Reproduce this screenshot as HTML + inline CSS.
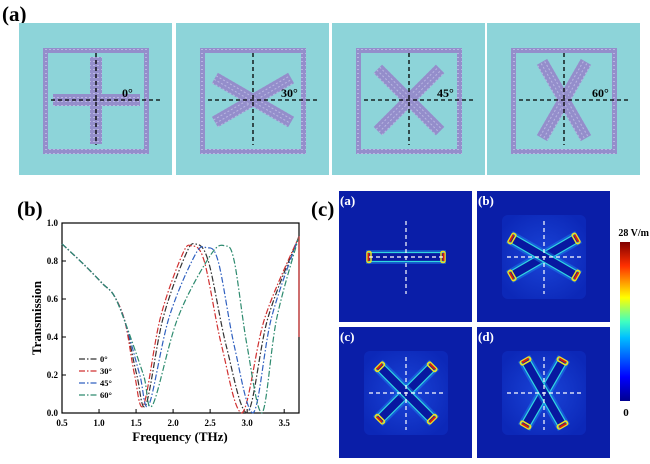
<!DOCTYPE html>
<html><head><meta charset="utf-8"><style>
body{margin:0;background:#fff;width:650px;height:464px;overflow:hidden}
svg{display:block;font-family:"Liberation Serif",serif}
</style></head><body>
<svg id="s" width="650" height="464" viewBox="0 0 650 464" xmlns="http://www.w3.org/2000/svg">
<defs>
<pattern id="mesh" width="4" height="4" patternUnits="userSpaceOnUse">
<rect width="4" height="4" fill="#948ecb"/><rect x="1" y="1" width="2" height="1" fill="#b9b6e2"/>
</pattern>
<linearGradient id="cb" x1="0" y1="1" x2="0" y2="0">
<stop offset="0" stop-color="#00008f"/><stop offset="0.15" stop-color="#0000ff"/><stop offset="0.4" stop-color="#00c0ff"/><stop offset="0.5" stop-color="#40ffc0"/><stop offset="0.65" stop-color="#ffff00"/><stop offset="0.85" stop-color="#ff3000"/><stop offset="1" stop-color="#800000"/>
</linearGradient>
<radialGradient id="inner" cx="0.5" cy="0.5" r="0.6"><stop offset="0" stop-color="#1a44d8"/><stop offset="1" stop-color="#0c28b8"/></radialGradient>
</defs>
<text x="2" y="21" font-size="21" font-weight="bold">(a)</text>
<g id="gtop"></g>
<text x="17" y="216" font-size="21" font-weight="bold">(b)</text>
<g id="gplot"></g>
<text x="311" y="216" font-size="21" font-weight="bold">(c)</text>
<g id="gmaps"></g>
<rect x="620" y="242" width="10" height="159" fill="url(#cb)"/>
<text x="649" y="236" font-size="10" font-weight="bold" text-anchor="end">28 V/m</text>
<text x="626" y="416" font-size="11" font-weight="bold" text-anchor="middle">0</text>
</svg>
<script>
(function(){
var NS="http://www.w3.org/2000/svg";
function el(p,t,a,txt){var e=document.createElementNS(NS,t);for(var k in a)e.setAttribute(k,a[k]);if(txt!==undefined)e.textContent=txt;p.appendChild(e);return e;}
var T=document.getElementById('gtop');
var boxes=[[19,0,'0°'],[176,30,'30°'],[332,45,'45°'],[487,60,'60°']];
boxes.forEach(function(b){
 var L=b[0],ang=b[1],lab=b[2];
 el(T,'rect',{x:L,y:23,width:153,height:152,fill:'#8dd4d9'});
 var cx=L+77,cy=100;
 el(T,'rect',{x:L+26.5,y:50.5,width:101,height:101,fill:'none',stroke:'url(#mesh)','stroke-width':5});
 if(ang===0){
  el(T,'rect',{x:cx-6,y:57,width:12,height:87,fill:'url(#mesh)'});
  el(T,'rect',{x:cx-43,y:94,width:87,height:12,fill:'url(#mesh)'});
 }else{
  [ang,-ang].forEach(function(a){el(T,'rect',{x:cx-44,y:cy-6,width:88,height:12,fill:'url(#mesh)',transform:'rotate('+(-a)+' '+cx+' '+cy+')'});});
 }
 el(T,'line',{x1:cx,y1:53,x2:cx,y2:145,stroke:'#000','stroke-width':1.3,'stroke-dasharray':'4,3'});
 el(T,'line',{x1:L+32,y1:cy,x2:L+141,y2:cy,stroke:'#000','stroke-width':1.3,'stroke-dasharray':'4,3'});
 el(T,'text',{x:cx+(ang?28:26),y:cy-3,'font-size':12,'font-weight':'bold'},lab);
});
var P=document.getElementById('gplot');
var X0=62,X1=299,Y0=413,Y1=223;
function fx(f){return X0+(f-0.5)/3.2*(X1-X0);}
function ty(t){return Y0-t*(Y0-Y1);}
el(P,'rect',{x:X0,y:Y1,width:X1-X0,height:Y0-Y1,fill:'none',stroke:'#000','stroke-width':1.2});
[0.5,1,1.5,2,2.5,3,3.5].forEach(function(f){el(P,'line',{x1:fx(f),y1:Y0,x2:fx(f),y2:Y0-4,stroke:'#000'});el(P,'text',{x:fx(f),y:Y0+13,'font-size':9,'font-weight':'bold','text-anchor':'middle'},f.toFixed(1));});
[0,0.2,0.4,0.6,0.8,1].forEach(function(t){el(P,'line',{x1:X0,y1:ty(t),x2:X0+4,y2:ty(t),stroke:'#000'});el(P,'text',{x:X0-4,y:ty(t)+3,'font-size':9,'font-weight':'bold','text-anchor':'end'},t.toFixed(1));});
el(P,'text',{x:180,y:441,'font-size':13,'font-weight':'bold','text-anchor':'middle'},'Frequency (THz)');
el(P,'text',{x:41,y:318,'font-size':13,'font-weight':'bold','text-anchor':'middle',transform:'rotate(-90 41 318)'},'Transmission');
function mk(d1,p,pk,d2){
 return [[0.5,.89],[0.8,.78],[1.05,.68],[1.2,.62],[1.35,.48],[d1-0.12,.2],[d1,.04],[d1+(p-d1)*0.35,.5],[p-(p-d1)*0.2,.83],[p,pk],[p+(d2-p)*0.25,.8],[p+(d2-p)*0.6,.35],[d2,0.0],[d2+(3.7-d2)*0.4,.5],[3.7,.93]];
}
var series=[
 ['#333',mk(1.63,2.3,.89,3.0)],
 ['#d03030',mk(1.6,2.25,.88,2.93)],
 ['#3060c0',mk(1.67,2.45,.87,3.08)],
 ['#2e8b6f',mk(1.72,2.7,.88,3.2)]
];
series.forEach(function(s){
 var c=s[0],pts=s[1].map(function(q){return [fx(q[0]),ty(q[1])];}),d='M'+pts[0][0]+' '+pts[0][1];
 for(var i=0;i<pts.length-1;i++){
  var p0=pts[Math.max(0,i-1)],p1=pts[i],p2=pts[i+1],p3=pts[Math.min(pts.length-1,i+2)];
  var c1x=p1[0]+(p2[0]-p0[0])/6,c1y=p1[1]+(p2[1]-p0[1])/6,c2x=p2[0]-(p3[0]-p1[0])/6,c2y=p2[1]-(p3[1]-p1[1])/6;
  d+='C'+c1x.toFixed(1)+' '+Math.min(Y0,c1y).toFixed(1)+' '+c2x.toFixed(1)+' '+Math.min(Y0,c2y).toFixed(1)+' '+p2[0].toFixed(1)+' '+p2[1].toFixed(1);
 }
 el(P,'path',{d:d,fill:'none',stroke:c,'stroke-width':1.2,'stroke-dasharray':'6,2,1.5,2'});
});
el(P,'line',{x1:X1,y1:ty(0.93),x2:X1,y2:ty(0.4),stroke:'#d03030','stroke-width':1.2});
var labs=['0°','30°','45°','60°'];
series.forEach(function(s,i){var y=359+i*12;el(P,'line',{x1:79,y1:y,x2:97,y2:y,stroke:s[0],'stroke-width':1.2,'stroke-dasharray':'6,2,1.5,2'});el(P,'text',{x:100,y:y+3,'font-size':8.5,'font-weight':'bold'},labs[i]);});
var M=document.getElementById('gmaps');
var mp=[[339,191,0,'(a)'],[477,191,30,'(b)'],[339,327,45,'(c)'],[477,327,60,'(d)']];
mp.forEach(function(m){
 var x=m[0],y=m[1],ang=m[2],lab=m[3];
 el(M,'rect',{x:x,y:y,width:133,height:131,fill:'#0a1ea8'});
 var cx=x+67,cy=y+66;
 if(ang>0) el(M,'rect',{x:cx-42,y:cy-42,width:84,height:84,rx:6,fill:'url(#inner)'});
 var bars=ang===0?[0]:[ang,-ang];
 var hl=ang===0?38:38;
 bars.forEach(function(a){
  var g=el(M,'g',{transform:'rotate('+(-a)+' '+cx+' '+cy+')'});
  el(g,'rect',{x:cx-hl-2,y:cy-7,width:2*hl+4,height:14,fill:'#1c8cf0',opacity:0.45});
  el(g,'rect',{x:cx-hl,y:cy-4.5,width:2*hl,height:9,rx:2,fill:'#0818a0',stroke:'#30d8e0','stroke-width':1.2});
  [-1,1].forEach(function(sd){
   el(g,'rect',{x:cx+sd*hl-(sd>0?3:1),y:cy-5.5,width:4,height:11,rx:1.5,fill:'none',stroke:'#f0e020','stroke-width':1.5});
   el(g,'rect',{x:cx+sd*hl-(sd>0?1.5:0.5),y:cy-4,width:2,height:8,fill:'#d02010'});
  });
 });
 el(M,'line',{x1:cx,y1:y+30,x2:cx,y2:y+103,stroke:'#fff','stroke-width':1.2,'stroke-dasharray':'4,3'});
 el(M,'line',{x1:cx-37,y1:cy,x2:cx+37,y2:cy,stroke:'#fff','stroke-width':1.2,'stroke-dasharray':'4,3'});
 el(M,'text',{x:x+1,y:y+14,'font-size':13,'font-weight':'bold',fill:'#fff'},lab);
});
})();
</script>
</body></html>
